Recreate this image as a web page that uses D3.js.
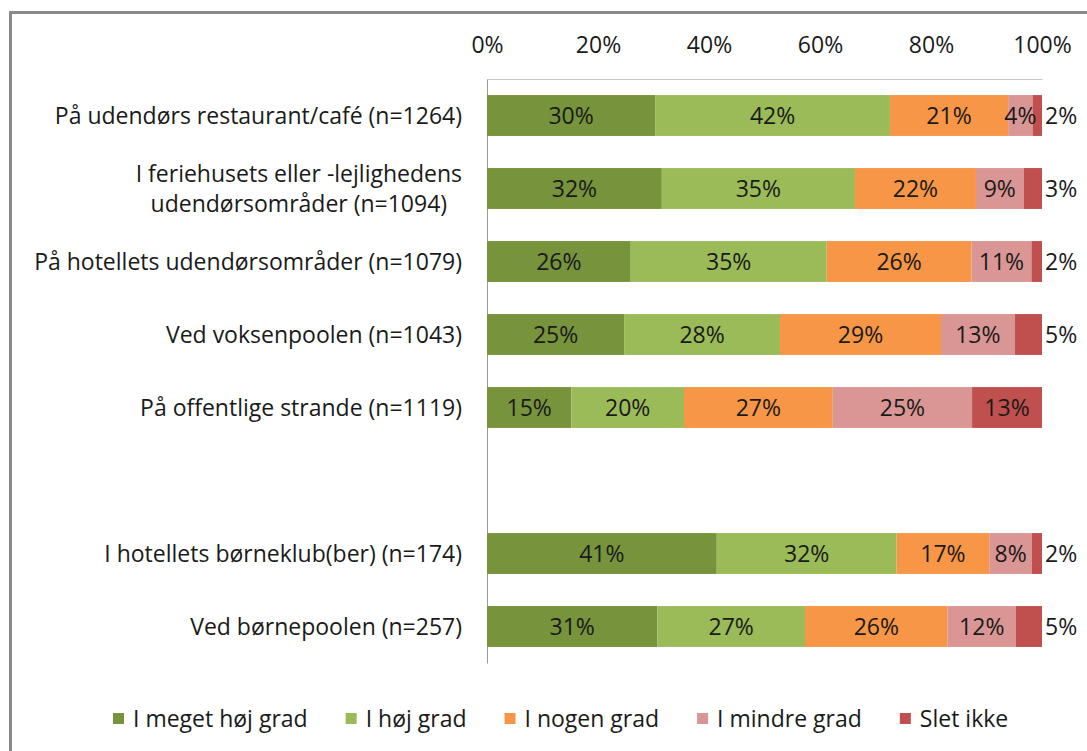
<!DOCTYPE html>
<meta charset="utf-8">
<script src="https://d3js.org/d3.v7.min.js"></script>
<style>
  body { margin: 0; background: #fff; }
  text { font-family: "Open Sans", Lato, sans-serif; fill: #1a1a1a; }
</style>
<body>
<div id="chart"></div>
<script>

// categories ("" is the empty gap row)
var categories = [
  "På udendørs restaurant/café (n=1264)",
  "I feriehusets eller -lejlighedens|udendørsområder (n=1094)",
  "På hotellets udendørsområder (n=1079)",
  "Ved voksenpoolen (n=1043)",
  "På offentlige strande (n=1119)",
  "",
  "I hotellets børneklub(ber) (n=174)",
  "Ved børnepoolen (n=257)"
];

var series = ["I meget høj grad", "I høj grad", "I nogen grad", "I mindre grad", "Slet ikke"];

// percentages per series, one value per category (null for the gap)
var megetHoj = [30.3, 31.5, 25.9, 24.7, 15.2, null, 41.4, 30.7];
var hoj      = [42.3, 34.8, 35.3, 28.1, 20.3, null, 32.4, 26.6];
var nogen    = [21.3, 21.8, 26.1, 29.0, 26.8, null, 16.7, 25.7];
var mindre   = [ 4.4,  8.6, 10.8, 13.3, 25.1, null,  7.7, 12.3];
var sletIkke = [ 1.7,  3.3,  1.9,  4.9, 12.6, null,  1.8,  4.7];

var ticks = [0, 20, 40, 60, 80, 100];

var colors = ["#77933C", "#9BBB59", "#F79646", "#D99694", "#C0504D"];

var W = 1087, H = 751;
var fs = 23;
var svg = d3.select("#chart").append("svg")
  .attr("width", W).attr("height", H);

// outer frame
svg.append("path")
  .attr("d", "M10.5," + H + "V12.5H" + W)
  .attr("fill", "none")
  .attr("stroke", "#8a8a8a")
  .attr("stroke-width", 3);

var x = d3.scaleLinear().domain([0, 100]).range([487, 1042]);
var y = d3.scaleBand()
  .domain(d3.range(categories.length))
  .range([79, 663])
  .paddingInner(0.44)
  .paddingOuter(0.22);

var allSeries = [megetHoj, hoj, nogen, mindre, sletIkke];
var rows = categories.map(function(c, i) {
  var r = { i: i, label: c };
  series.forEach(function(s, k) { r[s] = allSeries[k][i] || 0; });
  return r;
});

var stack = d3.stack().keys(series)(rows);

// top axis
var gx = svg.append("g")
  .attr("transform", "translate(0,79)")
  .call(d3.axisTop(x).tickValues(ticks).tickSize(0).tickSizeOuter(0).tickPadding(26)
    .tickFormat(function(d) { return d + "%"; }));
gx.select(".domain").attr("stroke", "#c8c8c8");
gx.selectAll("text").attr("font-size", fs).style("font-family", "'Open Sans', sans-serif").attr("fill", "#1a1a1a");

// left axis line
svg.append("g")
  .attr("transform", "translate(487,0)")
  .call(d3.axisLeft(y).tickValues([]).tickSizeOuter(0))
  .select(".domain").attr("stroke", "#9a9a9a");

// bars
var layers = svg.selectAll(".layer")
  .data(stack)
  .enter().append("g")
  .attr("fill", function(d, k) { return colors[k]; });

layers.selectAll("rect")
  .data(function(d) { return d.filter(function(p) { return p.data.label !== ""; }); })
  .enter().append("rect")
  .attr("x", function(p) { return x(p[0]); })
  .attr("y", function(p) { return y(p.data.i); })
  .attr("width", function(p) { return x(p[1]) - x(p[0]); })
  .attr("height", y.bandwidth());

// value labels
stack.forEach(function(layer, k) {
  layer.forEach(function(p) {
    if (p.data.label === "") return;
    var v = p[1] - p[0];
    var small = k === series.length - 1 && v < 6;
    svg.append("text")
      .attr("x", small ? x(100) + 3 : (x(p[0]) + x(p[1])) / 2)
      .attr("y", y(p.data.i) + y.bandwidth() / 2)
      .attr("dy", "0.36em")
      .attr("text-anchor", small ? "start" : "middle")
      .attr("font-size", fs)
      .text(Math.round(v) + "%");
  });
});

// category labels
categories.forEach(function(c, i) {
  if (c === "") return;
  var lines = c.split("|");
  var cy = y(i) + y.bandwidth() / 2;
  var t = svg.append("text")
    .attr("font-size", fs)
    .attr("text-anchor", "end");
  lines.forEach(function(l, j) {
    t.append("tspan")
      .attr("x", 462)
      .attr("y", cy + (j - (lines.length - 1) / 2) * 30)
      .attr("dy", "0.36em")
      .text(l);
  });
  if (lines.length > 1) {
    // centre the lines against each other, block right-aligned
    var widths = t.selectAll("tspan").nodes().map(function(n) { return n.getComputedTextLength(); });
    var maxW = d3.max(widths);
    t.attr("text-anchor", "middle")
      .selectAll("tspan").attr("x", 462 - maxW / 2);
  }
});

// legend
var lx = 113;
series.forEach(function(s, k) {
  svg.append("rect")
    .attr("x", lx).attr("y", 713)
    .attr("width", 11).attr("height", 11)
    .attr("fill", colors[k]);
  var t = svg.append("text")
    .attr("x", lx + 20).attr("y", 718.5)
    .attr("dy", "0.36em")
    .attr("font-size", fs)
    .text(s);
  lx += 20 + t.node().getComputedTextLength() + 38;
});

</script>
</body>
